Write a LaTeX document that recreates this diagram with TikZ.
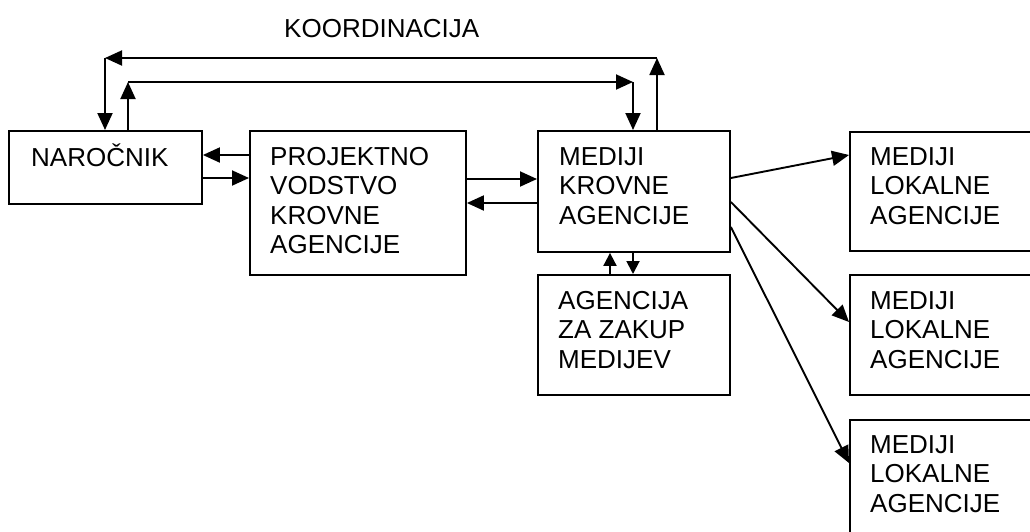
\documentclass[tikz,border=0pt]{standalone}
\usepackage{fontspec}
\setmainfont{Liberation Sans}
\usetikzlibrary{arrows.meta}
\tikzset{
  box/.style={draw, line width=1.9pt, anchor=north west, inner sep=0pt, minimum width=192pt},
  lbl/.style={inner sep=0pt, align=left, font=\fontsize{26}{29.3}\selectfont},
  arr/.style={line width=1.9pt, -{Triangle[length=17pt,width=15pt]}},
  sarr/.style={line width=1.9pt, -{Triangle[length=13pt,width=13pt]}},
  ln/.style={line width=1.9pt}
}
\begin{document}
\begin{tikzpicture}[x=1pt,y=-1pt]
\clip (0,0) rectangle (1030,531);
\fill[white] (0,0) rectangle (1030,531);
% boxes
\node[box, minimum width=193pt, minimum height=73pt] (nar) at (8,130) {};
\node[box, minimum width=216pt, minimum height=144pt] (proj) at (249,130) {};
\node[box, minimum height=121pt] (med) at (537,130) {};
\node[box, minimum height=120pt] (agen) at (537,274) {};
\node[box, minimum height=119pt] (loc1) at (849,131) {};
\node[box, minimum height=120pt] (loc2) at (849,274) {};
\node[box, minimum height=120pt] (loc3) at (849,419) {};
% labels
\node[lbl, anchor=base west] (tk) at (284,37) {KOORDINACIJA};
\node[lbl, anchor=base west] (tnar) at (31,166) {NAROČNIK};
\node[lbl, anchor=north west] (tproj) at (270,147.2) {PROJEKTNO\\VODSTVO\\KROVNE\\AGENCIJE};
\node[lbl, anchor=north west] (tmed) at (559,147.4) {MEDIJI\\KROVNE\\AGENCIJE};
\node[lbl, anchor=north west] (tagen) at (558,291.2) {AGENCIJA\\ZA ZAKUP\\MEDIJEV};
\node[lbl, anchor=north west] (tl1) at (870,147.4) {MEDIJI\\LOKALNE\\AGENCIJE};
\node[lbl, anchor=north west] (tl2) at (870,291.4) {MEDIJI\\LOKALNE\\AGENCIJE};
\node[lbl, anchor=north west] (tl3) at (870,435.4) {MEDIJI\\LOKALNE\\AGENCIJE};
% horizontal connectors
\draw[arr] ([yshift=-25pt]proj.north west) -- ([yshift=-25pt]nar.north east);
\draw[arr] ([yshift=-48pt]nar.north east) -- ([yshift=-48pt]proj.north west);
\draw[arr] ([yshift=-49pt]proj.north east) -- ([yshift=-49pt]med.north west);
\draw[arr] ([yshift=-73pt]med.north west) -- ([yshift=-73pt]proj.north east);
% coordination loops
\coordinate (o1) at (657,58);
\coordinate (o2) at (105,58);
\coordinate (i1) at (128,82);
\coordinate (i2) at (633,82);
\draw[arr] ([xshift=120pt]med.north west) -- (o1);
\draw[arr] (o1) -- (o2);
\draw[arr] (o2) -- (o2 |- nar.north);
\draw[arr] ([xshift=120pt]nar.north west) -- (i1);
\draw[arr] (i1) -- (i2);
\draw[arr] (i2) -- (i2 |- med.north);
% media - agency
\draw[sarr] ([xshift=73pt]agen.north west) -- ([xshift=73pt]med.south west);
\draw[sarr] ([xshift=96pt]med.south west) -- ([xshift=96pt]agen.north west);
% diagonals
\draw[arr] ([yshift=-48pt]med.north east) -- ([yshift=-24pt]loc1.north west);
\draw[arr] ([yshift=-72pt]med.north east) -- ([yshift=-48pt]loc2.north west);
\draw[arr] ([yshift=-97pt]med.north east) -- ([yshift=-44pt]loc3.north west);
\end{tikzpicture}
\end{document}
